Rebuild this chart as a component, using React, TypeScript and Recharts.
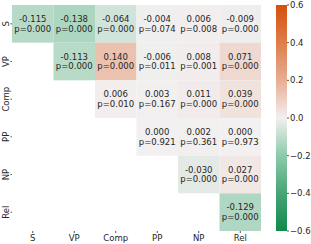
import React from 'react';
import { ScatterChart, Scatter, XAxis, YAxis, ComposedChart, ReferenceArea } from 'recharts';

const CATS = ['S', 'VP', 'Comp', 'PP', 'NP', 'Rel'];
const R_ROWS: (number | null)[][] = [
  [-0.115, -0.138, -0.064, -0.004, 0.006, -0.009],
  [null, -0.113, 0.14, -0.006, 0.008, 0.071],
  [null, null, 0.006, 0.003, 0.011, 0.039],
  [null, null, null, 0.0, 0.002, 0.0],
  [null, null, null, null, -0.03, 0.027],
  [null, null, null, null, null, -0.129],
];
const P_ROWS: (number | null)[][] = [
  [0.0, 0.0, 0.0, 0.074, 0.008, 0.0],
  [null, 0.0, 0.0, 0.011, 0.001, 0.0],
  [null, null, 0.01, 0.167, 0.0, 0.0],
  [null, null, null, 0.921, 0.361, 0.973],
  [null, null, null, null, 0.0, 0.0],
  [null, null, null, null, null, 0.0],
];
const CB_TICKS = [-0.6, -0.4, -0.2, 0, 0.2, 0.4, 0.6];
const CELL_TICKS = [0.5, 1.5, 2.5, 3.5, 4.5, 5.5];

const STOPS: [number, [number, number, number]][] = [
  [-0.6, [15, 138, 74]],
  [-0.4, [70, 164, 118]],
  [-0.2, [140, 202, 170]],
  [0, [242, 240, 240]],
  [0.2, [232, 173, 148]],
  [0.4, [222, 125, 74]],
  [0.6, [213, 80, 12]],
];

function colorFor(v: number): string {
  const c = Math.max(-0.6, Math.min(0.6, v));
  for (let i = 0; i < STOPS.length - 1; i++) {
    const [a, ca] = STOPS[i];
    const [b, cb] = STOPS[i + 1];
    if (c >= a && c <= b) {
      const t = (c - a) / (b - a);
      const m = ca.map((x, k) => Math.round(x + (cb[k] - x) * t));
      return `rgb(${m[0]},${m[1]},${m[2]})`;
    }
  }
  return 'rgb(242,240,240)';
}

const cells: { x: number; y: number; r: number; p: number }[] = [];
R_ROWS.forEach((row, ri) =>
  row.forEach((r, ci) => {
    const p = P_ROWS[ri][ci];
    if (r !== null && p !== null) cells.push({ x: ci + 0.5, y: ri + 0.5, r, p });
  })
);

const W = 261;
const H = 244;
const M = { top: 5, right: 0, left: 0, bottom: 0 };
const YW = 12;
const XH = 13;
const CW = (W - YW - M.left - M.right) / 6;
const CH = (H - XH - M.top - M.bottom) / 6;
const FONT = 'DejaVu Sans, sans-serif';
const TXT = '#262626';

const CellShape = (props: any) => {
  const { cx, cy, payload } = props;
  if (cx == null || cy == null) return null;
  return (
    <g>
      <rect x={cx - CW / 2} y={cy - CH / 2} width={CW} height={CH} fill={colorFor(payload.r)} />
      <text x={cx} y={cy - 4.8} textAnchor="middle" dominantBaseline="central" fontSize={8.5} fontFamily={FONT} fill={TXT}>
        {payload.r.toFixed(3)}
      </text>
      <text x={cx} y={cy + 4.8} textAnchor="middle" dominantBaseline="central" fontSize={8.5} fontFamily={FONT} fill={TXT}>
        {'p=' + payload.p.toFixed(3)}
      </text>
    </g>
  );
};

const YTick = (props: any) => {
  const { y, payload } = props;
  return (
    <text
      transform={`translate(6,${y}) rotate(-90)`}
      textAnchor="middle"
      dominantBaseline="central"
      fontSize={8.5}
      fontFamily={FONT}
      fill={TXT}
    >
      {CATS[Math.floor(payload.value)]}
    </text>
  );
};

const XTick = (props: any) => {
  const { x, y, payload } = props;
  return (
    <text x={x} y={y} dy="0.71em" textAnchor="middle" fontSize={8.5} fontFamily={FONT} fill={TXT}>
      {CATS[Math.floor(payload.value)]}
    </text>
  );
};

const fmtCb = (v: number) => (v < 0 ? '\u2212' + Math.abs(v).toFixed(1) : v.toFixed(1));

export default function App() {
  return (
    <div style={{ position: 'absolute', left: 0, top: 0, width: 311, height: 244, background: '#fff' }}>
      <div style={{ position: 'absolute', left: 0, top: 0 }}>
        <ScatterChart width={W} height={H} margin={M}>
          <XAxis
            type="number"
            dataKey="x"
            domain={[0, 6]}
            ticks={CELL_TICKS}
            height={XH}
            axisLine={false}
            tickSize={2}
            tickMargin={2}
            tickLine={{ stroke: TXT, strokeWidth: 0.8 }}
            tick={<XTick />}
            interval={0}
          />
          <YAxis
            type="number"
            dataKey="y"
            domain={[0, 6]}
            reversed
            ticks={CELL_TICKS}
            width={YW}
            axisLine={false}
            tickSize={1.5}
            tickMargin={0}
            tickLine={{ stroke: TXT, strokeWidth: 0.8 }}
            tick={<YTick />}
            interval={0}
          />
          <Scatter data={cells} isAnimationActive={false} shape={(p: any) => <CellShape {...p} />} />
        </ScatterChart>
      </div>
      <div style={{ position: 'absolute', left: 276, top: 0 }}>
        <ComposedChart width={35} height={H} margin={{ top: 5, right: 0, left: 0, bottom: XH }} data={[{ x: 0 }, { x: 1 }]}>
          <defs>
            <linearGradient id="cbgrad" x1="0" y1="0" x2="0" y2="1">
              {STOPS.slice().reverse().map(([v, c]) => (
                <stop key={v} offset={`${((0.6 - v) / 1.2) * 100}%`} stopColor={`rgb(${c[0]},${c[1]},${c[2]})`} />
              ))}
            </linearGradient>
          </defs>
          <XAxis type="number" dataKey="x" domain={[0, 1]} hide />
          <YAxis
            type="number"
            orientation="right"
            domain={[-0.6, 0.6]}
            ticks={CB_TICKS}
            width={24}
            axisLine={false}
            tickSize={2}
            tickMargin={1}
            tickLine={{ stroke: TXT, strokeWidth: 0.8 }}
            tickFormatter={fmtCb}
            tick={{ fontSize: 8.5, fontFamily: FONT, fill: TXT }}
            interval={0}
          />
          <ReferenceArea x1={0} x2={1} y1={-0.6} y2={0.6} fill="url(#cbgrad)" fillOpacity={1} stroke="none" ifOverflow="extendDomain" />
        </ComposedChart>
      </div>
    </div>
  );
}
